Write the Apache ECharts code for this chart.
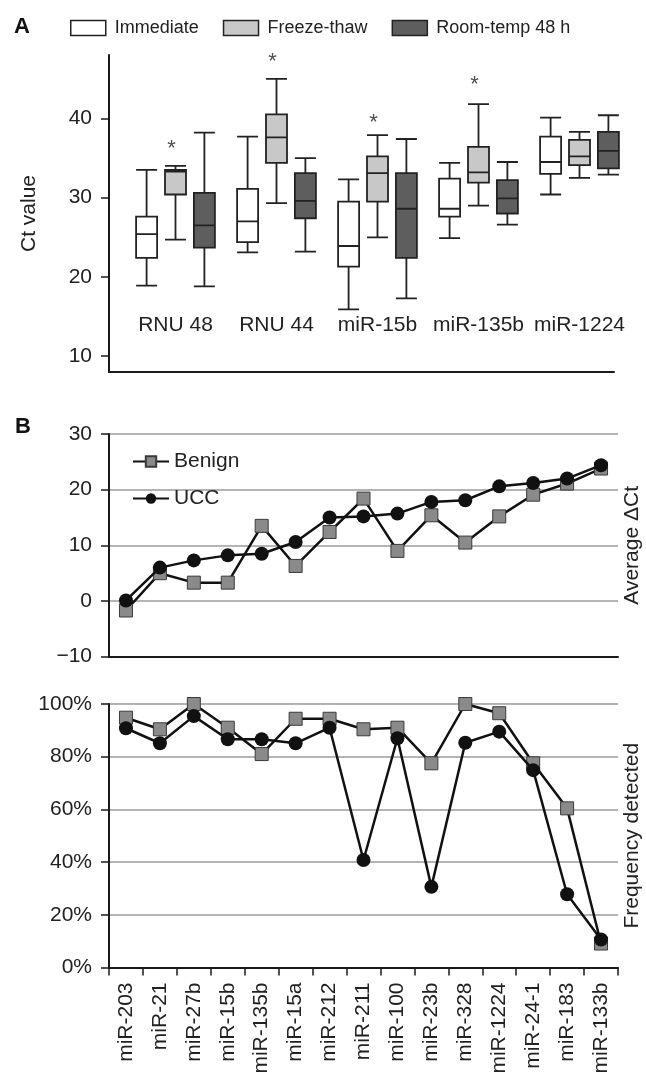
<!DOCTYPE html>
<html><head><meta charset="utf-8">
<script src="https://cdn.jsdelivr.net/npm/echarts@6/dist/echarts.min.js"></script>
<style>html,body{margin:0;padding:0;background:#fff}#c{width:646px;height:1074px}</style>
</head><body><div id="c"></div>
<script>
// ---- Panel A data: [min, Q1, median, Q3, max] ----
const boxGroups = ['RNU 48', 'RNU 44', 'miR-15b', 'miR-135b', 'miR-1224'];
const immediate = [[18.9, 22.4, 25.4, 27.6, 33.5], [23.1, 24.4, 27.0, 31.1, 37.7], [15.9, 21.3, 23.9, 29.5, 32.3], [24.9, 27.6, 28.6, 32.4, 34.4], [30.4, 33.0, 34.5, 37.7, 40.1]];
const freezeThaw = [[24.7, 30.4, 33.3, 33.5, 34.0], [29.3, 34.4, 37.6, 40.5, 45.0], [25.0, 29.5, 33.1, 35.2, 37.9], [29.0, 31.9, 33.2, 36.4, 41.8], [32.5, 34.1, 35.2, 37.3, 38.3]];
const roomTemp = [[18.8, 23.7, 26.5, 30.6, 38.2], [23.2, 27.4, 29.6, 33.1, 35.0], [17.3, 22.4, 28.6, 33.1, 37.4], [26.6, 28.0, 29.9, 32.2, 34.5], [32.9, 33.7, 35.9, 38.3, 40.4]];
const starGroups = ['RNU 48', 'RNU 44', 'miR-15b', 'miR-135b'];
const starHeights = [36.8, 47.7, 40.1, 44.8];
const ctTicks = [10, 20, 30, 40];

// ---- Panel B data ----
const mirnas = ['miR-203', 'miR-21', 'miR-27b', 'miR-15b', 'miR-135b', 'miR-15a', 'miR-212', 'miR-211', 'miR-100', 'miR-23b', 'miR-328', 'miR-1224', 'miR-24-1', 'miR-183', 'miR-133b'];
const benignDeltaCt = [-1.7, 5.0, 3.3, 3.3, 13.5, 6.3, 12.4, 18.4, 9.0, 15.4, 10.5, 15.2, 19.1, 21.1, 23.8];
const uccDeltaCt = [0.1, 6.0, 7.3, 8.2, 8.5, 10.6, 15.0, 15.2, 15.7, 17.8, 18.1, 20.6, 21.2, 22.0, 24.4];
const benignFreq = [94.8, 90.4, 100, 91.0, 81.0, 94.4, 94.4, 90.4, 91.0, 77.5, 100, 96.5, 77.5, 60.4, 9.1];
const uccFreq = [90.8, 85.1, 95.4, 86.6, 86.6, 85.1, 91.0, 40.8, 87.0, 30.6, 85.3, 89.5, 74.9, 27.8, 10.6];

const font = "'Liberation Sans', Arial, sans-serif";
const txt = '#222';
const axisColor = '#1a1a1a';
const gridGray = '#9b9b9b';
const axLine = { show: true, onZero: false, lineStyle: { color: axisColor, width: 2 } };
const axTick = { show: true, length: 8, lineStyle: { color: axisColor, width: 1.5 } };

const boxFill = { Immediate: '#ffffff', 'Freeze-thaw': '#c8c8c8', 'Room-temp 48 h': '#5e5e5e' };
const boxBorder = '#222222';

function boxSeries(name, data) {
  return {
    type: 'boxplot', name: name, xAxisIndex: 1, yAxisIndex: 1, data: data,
    itemStyle: { color: boxFill[name], borderColor: boxBorder, borderWidth: 1.8 },
    emphasis: { disabled: true }, silent: true
  };
}
function lineSeries(name, data, xi, yi) {
  const benign = name === 'Benign';
  return {
    type: 'line', name: name, xAxisIndex: xi, yAxisIndex: yi, data: data,
    symbol: benign ? 'rect' : 'circle', symbolSize: benign ? 13 : 14,
    itemStyle: benign ? { color: '#8a8a8a', borderColor: '#3a3a3a', borderWidth: 1 } : { color: '#111111' },
    lineStyle: { color: '#111111', width: 2.5 },
    emphasis: { disabled: true }, silent: true, z: benign ? 3 : 4
  };
}

const chart = echarts.init(document.getElementById('c'), null, { renderer: 'canvas' });
chart.setOption({
  animation: false,
  backgroundColor: '#fff',
  textStyle: { fontFamily: font, color: txt },
  title: [
    { text: 'A', left: 14, top: 16, padding: 0, textStyle: { fontSize: 22, fontWeight: 'bold', color: '#111', fontFamily: font } },
    { text: 'B', left: 15, top: 416, padding: 0, textStyle: { fontSize: 22, fontWeight: 'bold', color: '#111', fontFamily: font } }
  ],
  legend: [
    {
      data: ['Immediate', 'Freeze-thaw', 'Room-temp 48 h'].map(n => ({ name: n, itemStyle: { color: boxFill[n], borderColor: boxBorder, borderWidth: 1.5 } })),
      left: 70, top: 19, padding: 0, itemWidth: 35, itemHeight: 15, itemGap: 24, icon: 'rect',
      textStyle: { fontSize: 18, color: txt, fontFamily: font, padding: [0, 0, 0, 4] }, selectedMode: false
    },
    {
      data: ['Benign', 'UCC'], orient: 'vertical', left: 132, top: 451, padding: 0,
      itemWidth: 36, itemHeight: 13, itemGap: 16, selectedMode: false,
      textStyle: { fontSize: 21, color: txt, fontFamily: font }
    }
  ],
  grid: [
    { left: 109, top: 55, width: 505, height: 317, outerBoundsMode: 'none', containLabel: false },
    { left: 125, top: 55, width: 505, height: 317, outerBoundsMode: 'none', containLabel: false },
    { left: 109, top: 434, width: 509, height: 222.7, outerBoundsMode: 'none', containLabel: false },
    { left: 109, top: 704, width: 509, height: 263.5, outerBoundsMode: 'none', containLabel: false }
  ],
  xAxis: [
    { gridIndex: 0, type: 'category', data: boxGroups, axisLine: axLine, axisTick: { show: false }, axisLabel: { show: false } },
    { gridIndex: 1, type: 'category', data: boxGroups, axisLine: { show: false }, axisTick: { show: false },
      axisLabel: { inside: true, margin: 36, fontSize: 21, color: txt, interval: 0, fontFamily: font } },
    { gridIndex: 2, type: 'category', data: mirnas, axisLine: axLine, axisTick: { show: false }, axisLabel: { show: false } },
    { gridIndex: 3, type: 'category', data: mirnas, axisLine: axLine, axisTick: axTick,
      axisLabel: { rotate: 90, interval: 0, margin: 15, fontSize: 21, color: txt, fontFamily: font } }
  ],
  yAxis: [
    { gridIndex: 0, type: 'value', min: 8, max: 48, name: 'Ct value', nameLocation: 'middle', nameGap: 69,
      nameTextStyle: { fontSize: 21, color: txt, fontFamily: font },
      axisLine: axLine, axisTick: Object.assign({ customValues: ctTicks }, axTick),
      axisLabel: { customValues: ctTicks, margin: 17, fontSize: 21, color: txt, fontFamily: font },
      splitLine: { show: false } },
    { gridIndex: 1, type: 'value', min: 8, max: 48, show: false },
    { gridIndex: 2, type: 'value', min: -10, max: 30, interval: 10, axisLine: axLine, axisTick: axTick,
      axisLabel: { margin: 17, fontSize: 21, color: txt, fontFamily: font, formatter: v => String(v).replace('-', '\u2212') },
      splitLine: { show: true, lineStyle: { color: gridGray, width: 1.5 } } },
    { gridIndex: 2, type: 'value', position: 'right', min: -10, max: 30, interval: 10, name: 'Average \u0394Ct',
      nameLocation: 'middle', nameGap: 4, nameTextStyle: { fontSize: 21, color: txt, fontFamily: font },
      axisLine: { show: false }, axisTick: { show: false }, axisLabel: { show: false }, splitLine: { show: false } },
    { gridIndex: 3, type: 'value', min: 0, max: 100, interval: 20, axisLine: axLine, axisTick: axTick,
      axisLabel: { margin: 17, fontSize: 21, color: txt, fontFamily: font, formatter: '{value}%' },
      splitLine: { show: true, lineStyle: { color: gridGray, width: 1.5 } } },
    { gridIndex: 3, type: 'value', position: 'right', min: 0, max: 100, interval: 20, name: 'Frequency detected',
      nameLocation: 'middle', nameGap: 4, nameTextStyle: { fontSize: 21, color: txt, fontFamily: font },
      axisLine: { show: false }, axisTick: { show: false }, axisLabel: { show: false }, splitLine: { show: false } }
  ],
  series: [
    boxSeries('Immediate', immediate),
    boxSeries('Freeze-thaw', freezeThaw),
    boxSeries('Room-temp 48 h', roomTemp),
    {
      type: 'scatter', name: 'significance', xAxisIndex: 1, yAxisIndex: 1, silent: true,
      data: starGroups.map((g, i) => [boxGroups.indexOf(g), starHeights[i]]),
      symbolSize: 1, itemStyle: { color: 'rgba(0,0,0,0)' },
      label: { show: true, formatter: '*', position: 'inside', offset: [-4, 5], fontSize: 22, color: '#222', fontFamily: font }
    },
    lineSeries('Benign', benignDeltaCt, 2, 2),
    lineSeries('UCC', uccDeltaCt, 2, 2),
    lineSeries('Benign', benignFreq, 3, 4),
    lineSeries('UCC', uccFreq, 3, 4)
  ]
});
</script>
</body></html>
